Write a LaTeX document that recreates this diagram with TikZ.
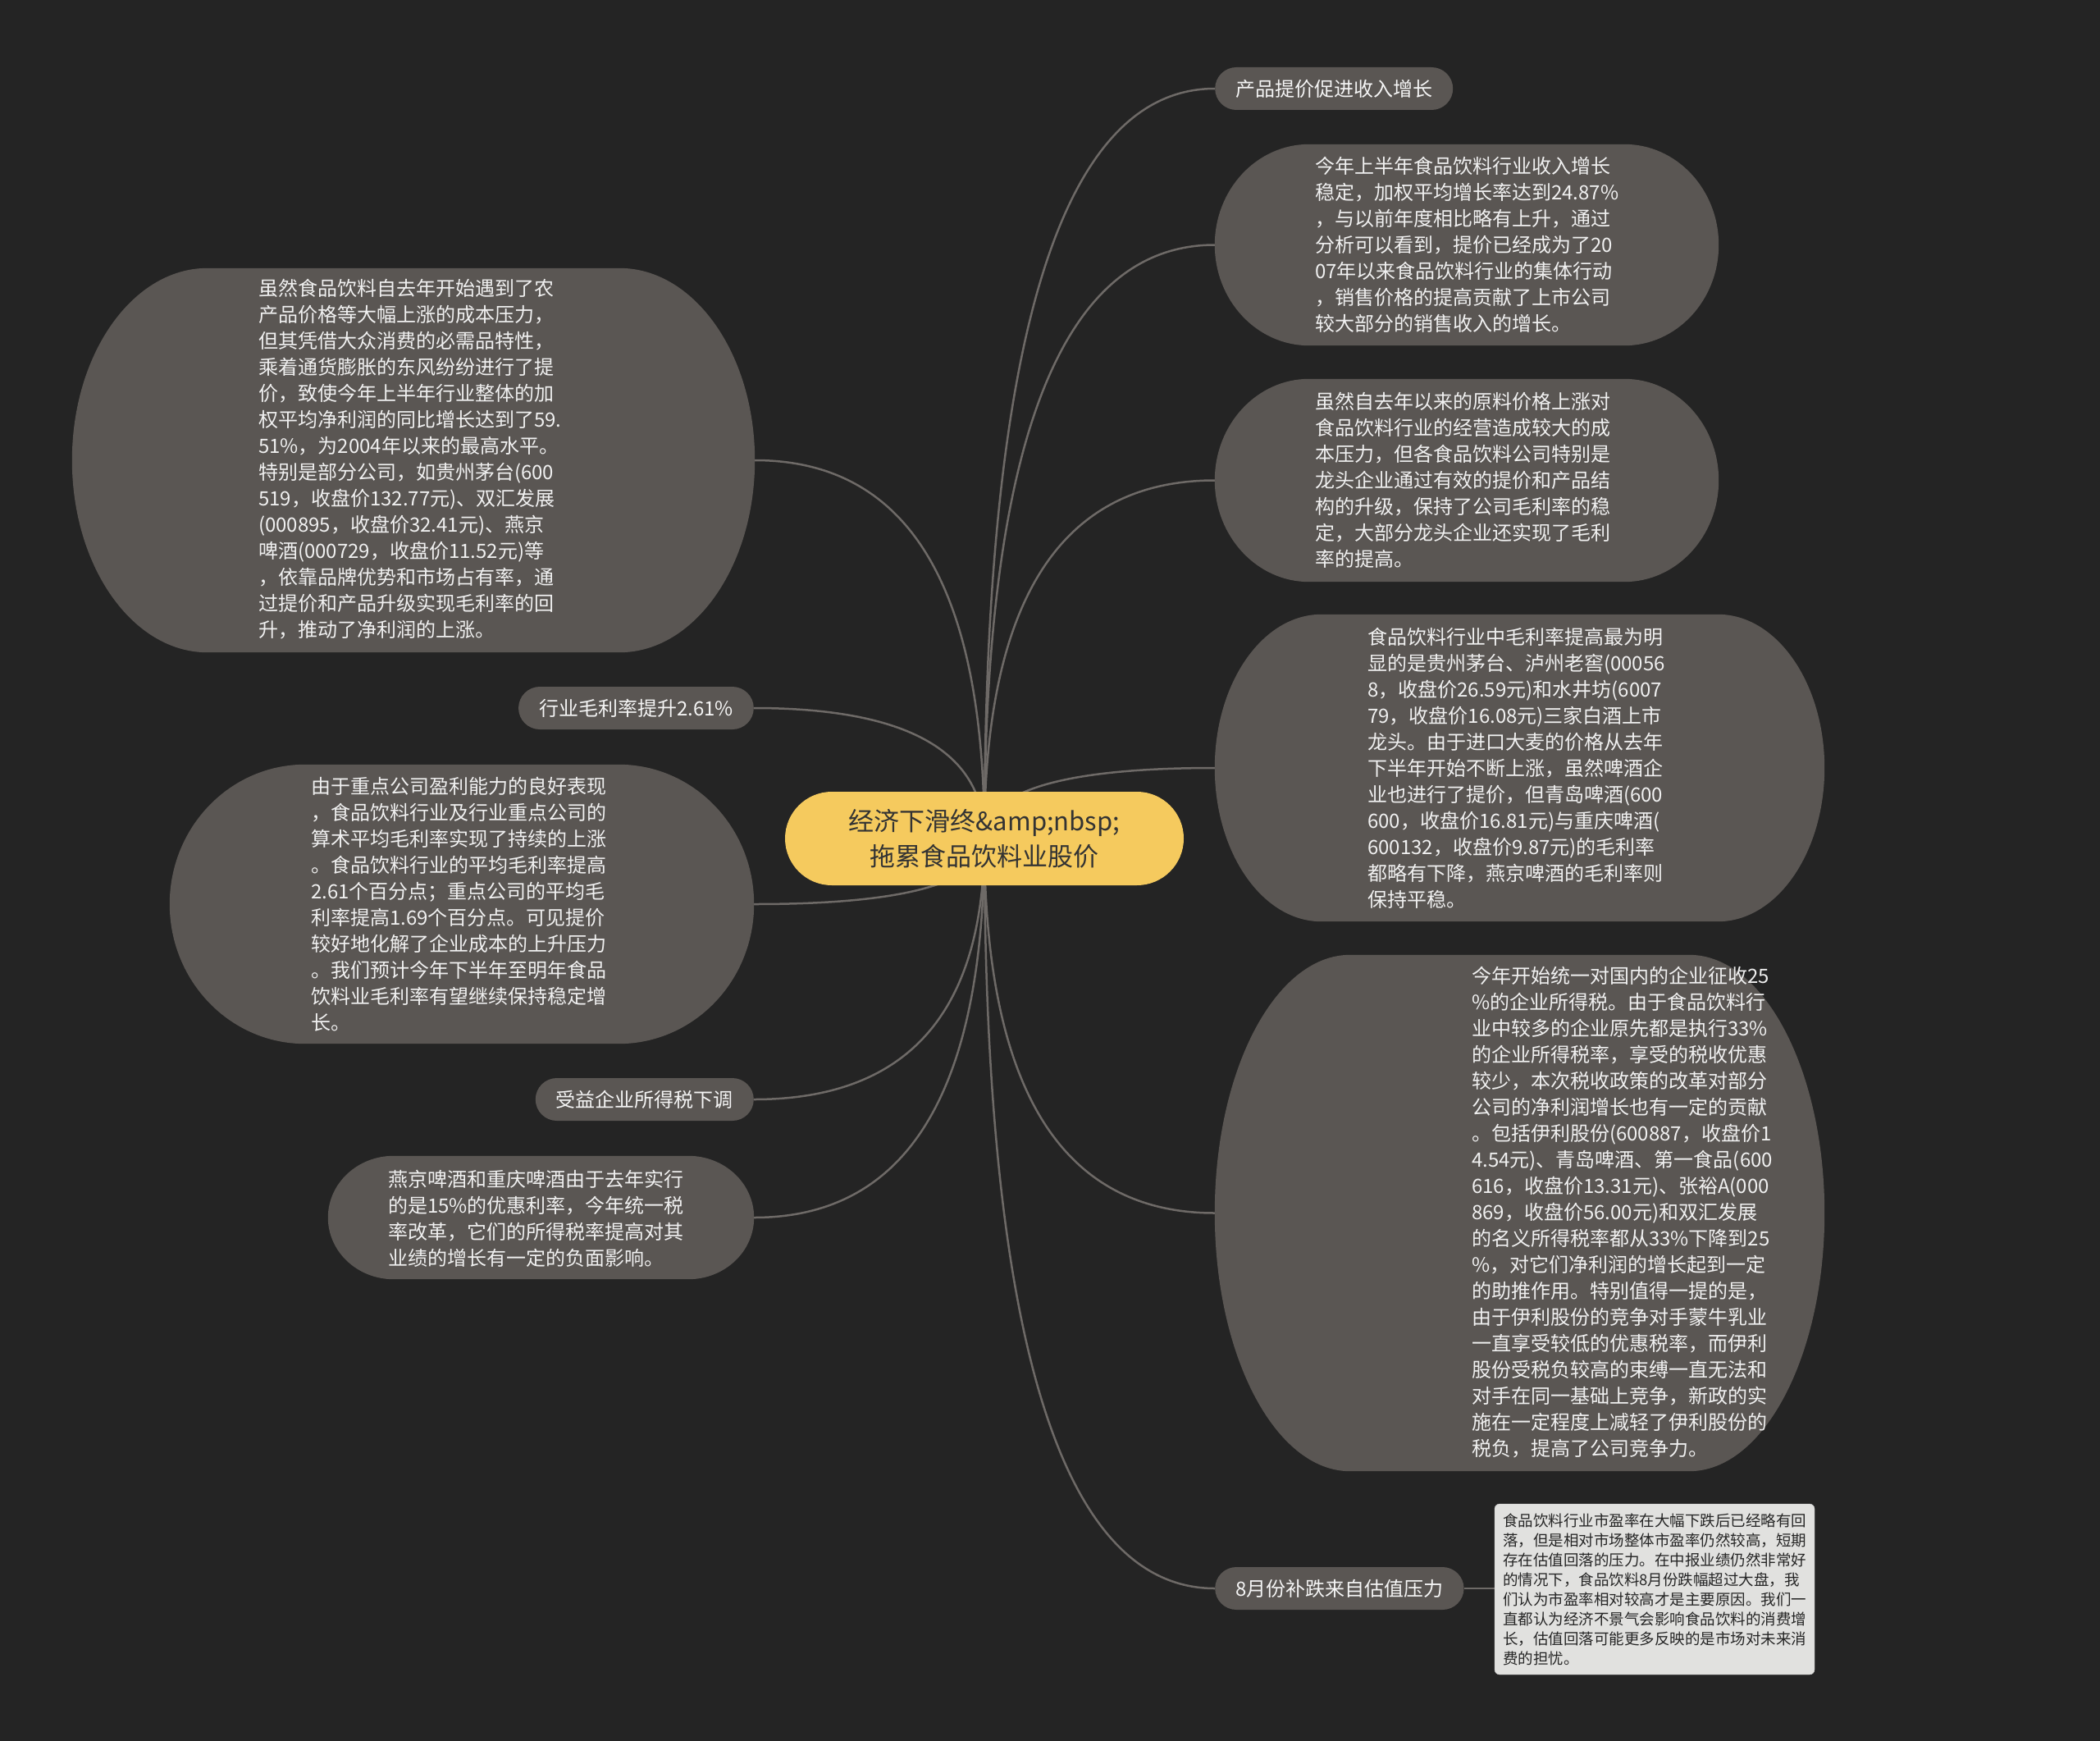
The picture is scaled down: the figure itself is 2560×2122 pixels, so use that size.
\documentclass[tikz,border=0pt]{standalone}
\usepackage{fontspec}
\setmainfont{Noto Sans CJK SC}
\usetikzlibrary{calc}

\definecolor{bgdark}{HTML}{242424}
\definecolor{leafgray}{HTML}{5A5653}
\definecolor{linegray}{HTML}{6E6A67}
\definecolor{rootyellow}{HTML}{F5CA5E}
\definecolor{notegray}{HTML}{E1E1DF}

\pgfdeclarelayer{back}
\pgfdeclarelayer{mid}
\pgfsetlayers{back,mid,main}

% pill with elliptic ends round a named box
\newcommand{\pill}[2]{%
  \fill[leafgray] let \p1=(#1.north west), \p2=(#1.south east), \n1={(\y1-\y2)/2} in
    (\x1+#2pt,\y1) -- (\x2-#2pt,\y1)
    arc[start angle=90, end angle=-90, x radius=#2pt, y radius=\n1]
    -- (\x1+#2pt,\y2)
    arc[start angle=270, end angle=90, x radius=#2pt, y radius=\n1] -- cycle;}

\tikzset{
  link/.style={draw=linegray, line width=2.5pt},
  root/.style={fill=rootyellow, text=black!80, rounded corners=57pt, minimum width=486pt,
    minimum height=114pt, align=center, font=\fontsize{31}{43}\selectfont},
  topic/.style={fill=leafgray, text=white!96!black, rounded corners=26pt, minimum height=52pt,
    inner xsep=25pt, inner ysep=0pt, font=\fontsize{24}{32}\selectfont},
  pillbox/.style={inner sep=0pt},
  leaftext/.style={text=white!94!black, align=left, inner sep=0pt, anchor=west,
    font=\fontsize{24}{32}\selectfont},
  note/.style={fill=notegray, draw=black!22, rounded corners=6pt, text=black!85, align=left,
    minimum width=390pt, minimum height=208pt, inner sep=0pt, font=\fontsize{18.5}{24}\selectfont}
}

\begin{document}
\begin{tikzpicture}[x=1pt, y=-1pt]
  \useasboundingbox (0,0) rectangle (2560,2122);
  \begin{pgfonlayer}{back}
    \fill[bgdark] (0,0) rectangle (2560,2122);
  \end{pgfonlayer}

  \node[root] (root) at (1200,1022) {经济下滑终\&amp;nbsp;\\拖累食品饮料业股价};

  % right side
  \node[topic, anchor=west] (s1) at (1481,108) {产品提价促进收入增长};

  \node[pillbox, minimum width=614pt, minimum height=245pt] (r1) at (1788,298.5) {};
  \node[leaftext] (r1t) at (1603,298.5) {今年上半年食品饮料行业收入增长\\稳定，加权平均增长率达到24.87\%\\，与以前年度相比略有上升，通过\\分析可以看到，提价已经成为了20\\07年以来食品饮料行业的集体行动\\，销售价格的提高贡献了上市公司\\较大部分的销售收入的增长。};

  \node[pillbox, minimum width=614pt, minimum height=247pt] (r2) at (1788,585.5) {};
  \node[leaftext] (r2t) at (1603,585) {虽然自去年以来的原料价格上涨对\\食品饮料行业的经营造成较大的成\\本压力，但各食品饮料公司特别是\\龙头企业通过有效的提价和产品结\\构的升级，保持了公司毛利率的稳\\定，大部分龙头企业还实现了毛利\\率的提高。};

  \node[pillbox, minimum width=743pt, minimum height=374pt] (r3) at (1852.5,936) {};
  \node[leaftext] (r3t) at (1667,936) {食品饮料行业中毛利率提高最为明\\显的是贵州茅台、泸州老窖(00056\\8，收盘价26.59元)和水井坊(6007\\79，收盘价16.08元)三家白酒上市\\龙头。由于进口大麦的价格从去年\\下半年开始不断上涨，虽然啤酒企\\业也进行了提价，但青岛啤酒(600\\600，收盘价16.81元)与重庆啤酒(\\600132，收盘价9.87元)的毛利率\\都略有下降，燕京啤酒的毛利率则\\保持平稳。};

  \node[pillbox, minimum width=743pt, minimum height=629pt] (r4) at (1852.5,1478.5) {};
  \node[leaftext] (r4t) at (1794,1478) {今年开始统一对国内的企业征收25\\\%的企业所得税。由于食品饮料行\\业中较多的企业原先都是执行33\%\\的企业所得税率，享受的税收优惠\\较少，本次税收政策的改革对部分\\公司的净利润增长也有一定的贡献\\。包括伊利股份(600887，收盘价1\\4.54元)、青岛啤酒、第一食品(600\\616，收盘价13.31元)、张裕A(000\\869，收盘价56.00元)和双汇发展\\的名义所得税率都从33\%下降到25\\\%，对它们净利润的增长起到一定\\的助推作用。特别值得一提的是，\\由于伊利股份的竞争对手蒙牛乳业\\一直享受较低的优惠税率，而伊利\\股份受税负较高的束缚一直无法和\\对手在同一基础上竞争，新政的实\\施在一定程度上减轻了伊利股份的\\税负，提高了公司竞争力。};

  \node[topic, anchor=west] (s4) at (1481,1936) {8月份补跌来自估值压力};
  \node[note] (note) at (2017,1937) {食品饮料行业市盈率在大幅下跌后已经略有回\\落，但是相对市场整体市盈率仍然较高，短期\\存在估值回落的压力。在中报业绩仍然非常好\\的情况下，食品饮料8月份跌幅超过大盘，我\\们认为市盈率相对较高才是主要原因。我们一\\直都认为经济不景气会影响食品饮料的消费增\\长，估值回落可能更多反映的是市场对未来消\\费的担忧。};

  % left side
  \node[pillbox, minimum width=832pt, minimum height=468pt] (lA) at (504,561) {};
  \node[leaftext] (lAt) at (315,560) {虽然食品饮料自去年开始遇到了农\\产品价格等大幅上涨的成本压力，\\但其凭借大众消费的必需品特性，\\乘着通货膨胀的东风纷纷进行了提\\价，致使今年上半年行业整体的加\\权平均净利润的同比增长达到了59.\\51\%，为2004年以来的最高水平。\\特别是部分公司，如贵州茅台(600\\519，收盘价132.77元)、双汇发展\\(000895，收盘价32.41元)、燕京\\啤酒(000729，收盘价11.52元)等\\，依靠品牌优势和市场占有率，通\\过提价和产品升级实现毛利率的回\\升，推动了净利润的上涨。};

  \node[topic, anchor=east] (s2) at (919,863) {行业毛利率提升2.61\%};

  \node[pillbox, minimum width=712pt, minimum height=340pt] (lB) at (563,1102) {};
  \node[leaftext] (lBt) at (379,1102) {由于重点公司盈利能力的良好表现\\，食品饮料行业及行业重点公司的\\算术平均毛利率实现了持续的上涨\\。食品饮料行业的平均毛利率提高\\2.61个百分点；重点公司的平均毛\\利率提高1.69个百分点。可见提价\\较好地化解了企业成本的上升压力\\。我们预计今年下半年至明年食品\\饮料业毛利率有望继续保持稳定增\\长。};

  \node[topic, anchor=east] (s3) at (919,1340) {受益企业所得税下调};

  \node[pillbox, minimum width=519pt, minimum height=150pt] (lC) at (659.5,1484) {};
  \node[leaftext] (lCt) at (473,1485) {燕京啤酒和重庆啤酒由于去年实行\\的是15\%的优惠利率，今年统一税\\率改革，它们的所得税率提高对其\\业绩的增长有一定的负面影响。};

  \begin{pgfonlayer}{mid}
    \foreach \nm/\rad in {r1/115, r2/115, r3/130, r4/165, lA/165, lB/165, lC/80}
      \pill{\nm}{\rad};
  \end{pgfonlayer}

  \begin{pgfonlayer}{back}
    \foreach \t in {s1.west, r1.west, r2.west, r3.west, r4.west, s4.west,
                    lA.east, s2.east, lB.east, s3.east, lC.east}
      \draw[link] (root.center) .. controls ($(root.center |- \t)!0.333!(root.center)$)
        and ($(root.center |- \t)!0.333!(\t)$) .. (\t);
    \draw[link] (s4.east) -- (s4.east -| note.west);
  \end{pgfonlayer}
\end{tikzpicture}
\end{document}
